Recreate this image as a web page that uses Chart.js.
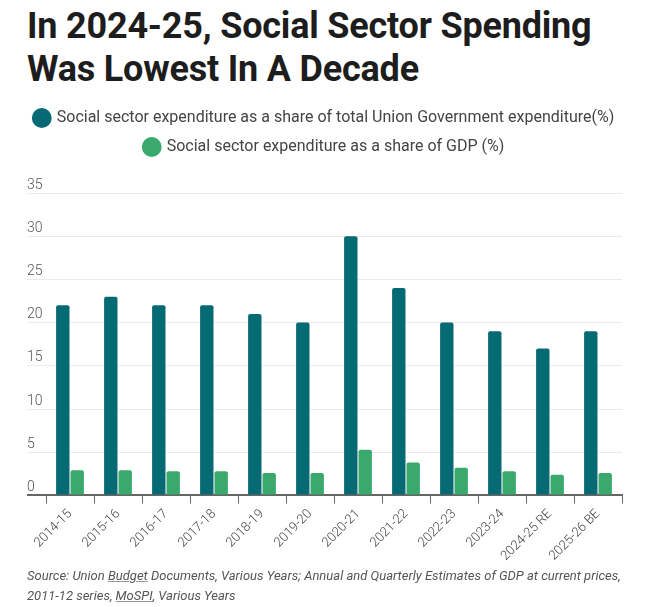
<!DOCTYPE html>
<html>
<head>
<meta charset="utf-8">
<script src="https://cdn.jsdelivr.net/npm/chart.js@4"></script>
<style>
  html, body { margin: 0; padding: 0; background: #fff; }
  body { width: 661px; height: 607px; position: relative; overflow: hidden; font-family: Roboto, sans-serif; }
  h1 {
    position: absolute; left: 27px; top: 5px; margin: 0;
    font: 700 36px/43px Roboto, sans-serif; letter-spacing: -0.2px; color: #1d1d1d;
  }
  #wrap { position: absolute; left: 0; top: 95px; width: 661px; height: 472px; }
  .source {
    position: absolute; left: 27px; top: 566px; width: 605px;
    font: italic 13px/20px Roboto, sans-serif; color: #555;
  }
  .source u { text-decoration-color: #999; }
</style>
</head>
<body>
<h1>In 2024-25, Social Sector Spending<br>Was Lowest In A Decade</h1>
<div id="wrap"><canvas id="chart"></canvas></div>
<div class="source">Source: Union <u>Budget</u> Documents, Various Years; Annual and Quarterly Estimates of GDP at current prices, 2011-12 series, <u>MoSPI</u>, Various Years</div>
<script>
const years = ["2014-15", "2015-16", "2016-17", "2017-18", "2018-19", "2019-20",
  "2020-21", "2021-22", "2022-23", "2023-24", "2024-25 RE", "2025-26 BE"];
const shareOfExpenditure = [22, 23, 22, 22, 21, 20, 30, 24, 20, 19, 17, 19];
const shareOfGdp = [2.9, 2.9, 2.8, 2.8, 2.6, 2.6, 5.3, 3.8, 3.2, 2.8, 2.4, 2.6];
const yTicks = [0, 5, 10, 15, 20, 25, 30, 35];

const TEAL = "#066a74";
const GREEN = "#3aa96e";
const AXIS = "#666";

function el(id) {
  return document.getElementById(id);
}

// extra room between the legend and the plot, as in the original
const legendGap = {
  id: "legendGap",
  beforeInit(chart) {
    const fit = chart.legend.fit;
    chart.legend.fit = function () {
      fit.bind(chart.legend)();
      this.height += 28;
    };
  },
};

new Chart(el("chart"), {
  type: "bar",
  data: {
    labels: years,
    datasets: [
      {
        label: "Social sector expenditure as a share of total Union Government expenditure(%)",
        data: shareOfExpenditure,
        backgroundColor: TEAL,
        borderRadius: 2,
      },
      {
        label: "Social sector expenditure as a share of GDP (%)",
        data: shareOfGdp,
        backgroundColor: GREEN,
        borderRadius: 2,
      },
    ],
  },
  options: {
    responsive: true,
    maintainAspectRatio: false,
    animation: false,
    categoryPercentage: 0.6,
    barPercentage: 0.93,
    layout: { padding: { left: 27, right: 39, top: 2 } },
    plugins: {
      tooltip: { enabled: false },
      legend: {
        position: "top",
        labels: {
          usePointStyle: true,
          pointStyle: "circle",
          boxWidth: 14,
          boxHeight: 14,
          padding: 13,
          color: "#444",
          font: { family: "Roboto", size: 16, weight: "400" },
        },
      },
    },
    scales: {
      x: {
        grid: {
          offset: true,
          drawOnChartArea: false,
          drawTicks: true,
          tickLength: 8,
          color: AXIS,
        },
        border: { display: true, color: AXIS, width: 2 },
        ticks: {
          color: "#444",
          maxRotation: 45,
          minRotation: 45,
          font: { family: "Roboto", size: 13, weight: "300" },
        },
      },
      y: {
        min: 0,
        max: 35,
        afterBuildTicks: (axis) => {
          axis.ticks = yTicks.map((v) => ({ value: v }));
        },
        afterFit: (axis) => {
          axis.width = 19;
        },
        border: { display: false },
        grid: {
          tickLength: 19,
          color: (ctx) => (ctx.tick && ctx.tick.value === 0 ? AXIS : "#ebebeb"),
          lineWidth: (ctx) => (ctx.tick && ctx.tick.value === 0 ? 2 : 1),
        },
        ticks: {
          crossAlign: "far",
          labelOffset: -8,
          padding: 0,
          color: "#555",
          font: { family: "Roboto", size: 14, weight: "300" },
        },
      },
    },
  },
  plugins: [legendGap],
});
</script>
</body>
</html>
